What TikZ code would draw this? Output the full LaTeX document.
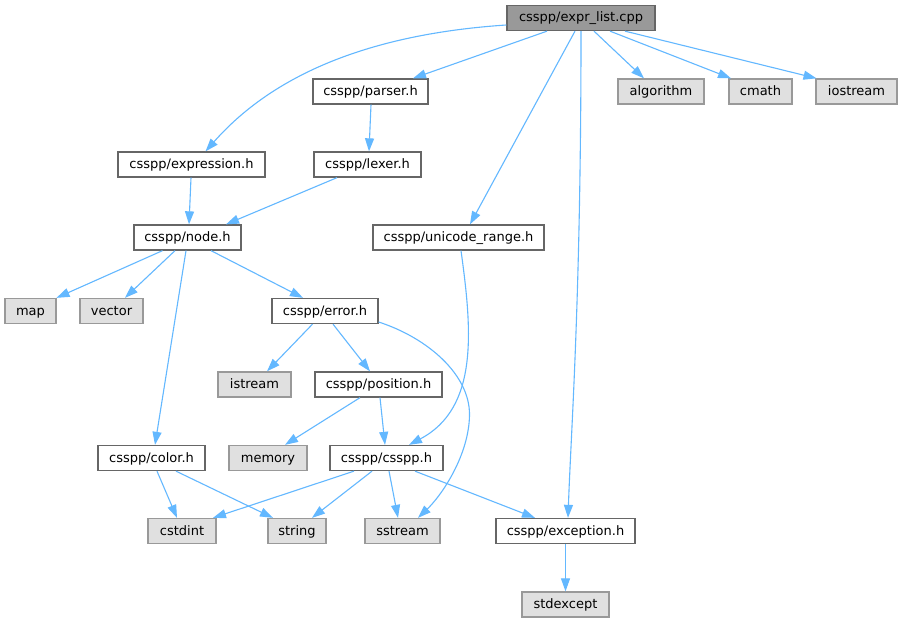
\documentclass[tikz,border=0pt]{standalone}
\usepackage{fontspec}
\setmainfont{DejaVu Sans}
\usetikzlibrary{arrows.meta}
\definecolor{edgeblue}{HTML}{63B8FF}
\definecolor{nodeborder}{HTML}{666666}
\definecolor{sysborder}{HTML}{999999}
\definecolor{sysfill}{HTML}{E0E0E0}
\definecolor{topfill}{HTML}{999999}
\tikzset{
  filebox/.style={draw=nodeborder, fill=white, line width=1.3pt, minimum height=25pt,
    inner sep=0pt, text height=10pt, text depth=2pt,
    font=\fontsize{13}{15}\selectfont, anchor=center},
  sysbox/.style={filebox, draw=sysborder, fill=sysfill},
  topbox/.style={filebox, draw=nodeborder, fill=topfill},
  dep/.style={draw=edgeblue, line width=1.1pt, -{Triangle[length=13pt,width=9pt]}},
}
\begin{document}
\begin{tikzpicture}[x=1pt,y=-1pt]
\fill[white] (0,0) rectangle (901,623);
\useasboundingbox (0,0) rectangle (901,623);

% row 0
\node[topbox, minimum width=148pt] (top) at (581,18) {csspp/expr\_list.cpp};
% row 1
\node[filebox, minimum width=115pt] (parser) at (370.5,91.5) {csspp/parser.h};
\node[sysbox, minimum width=86pt] (algorithm) at (661,91.5) {algorithm};
\node[sysbox, minimum width=63pt] (cmath) at (760.5,91.5) {cmath};
\node[sysbox, minimum width=81pt] (iostream) at (856.5,91.5) {iostream};
% row 2
\node[filebox, minimum width=147pt] (expression) at (191.5,164.5) {csspp/expression.h};
\node[filebox, minimum width=107pt] (lexer) at (367.5,164.5) {csspp/lexer.h};
% row 3
\node[filebox, minimum width=107pt] (nodeh) at (187.5,237.5) {csspp/node.h};
\node[filebox, minimum width=171pt] (unicode) at (458.5,237.5) {csspp/unicode\_range.h};
% row 4
\node[sysbox, minimum width=51pt] (map) at (30.5,311) {map};
\node[sysbox, minimum width=63pt] (vector) at (111.5,311) {vector};
\node[filebox, minimum width=106pt] (error) at (325,311) {csspp/error.h};
% row 5
\node[sysbox, minimum width=73pt] (istream) at (254.5,384.5) {istream};
\node[filebox, minimum width=127pt] (position) at (378.5,384.5) {csspp/position.h};
% row 6
\node[filebox, minimum width=107pt] (color) at (151.5,458) {csspp/color.h};
\node[sysbox, minimum width=78pt] (memory) at (268,458) {memory};
\node[filebox, minimum width=113pt] (csspp) at (386.5,458) {csspp/csspp.h};
% row 7
\node[sysbox, minimum width=68pt] (cstdint) at (182,531) {cstdint};
\node[sysbox, minimum width=58pt] (string) at (297,531) {string};
\node[sysbox, minimum width=75pt] (sstream) at (402.5,531) {sstream};
\node[filebox, minimum width=139pt] (exception) at (565.5,531) {csspp/exception.h};
% row 8
\node[sysbox, minimum width=87pt] (stdexcept) at (565.5,604.5) {stdexcept};

% edges from top
\draw[dep] ([yshift=-7pt]top.west) .. controls (340,36) and (258,92) .. ([xshift=14pt]expression.north);
\draw[dep] ([xshift=-34pt]top.south) -- ([xshift=42.5pt]parser.north);
\draw[dep] ([xshift=-6pt]top.south) -- ([xshift=11.5pt]unicode.north);
\draw[dep] (top.south) .. controls (581,300) and (571,430) .. ([xshift=2.5pt]exception.north);
\draw[dep] ([xshift=13pt]top.south) -- ([xshift=-17pt]algorithm.north);
\draw[dep] ([xshift=29pt]top.south) -- ([xshift=-29.5pt]cmath.north);
\draw[dep] ([xshift=44pt]top.south) -- ([xshift=-40pt]iostream.north);

% parser, expression, lexer
\draw[dep] ([xshift=0.5pt]parser.south) -- ([xshift=1.5pt]lexer.north);
\draw[dep] ([xshift=-0.5pt]expression.south) -- ([xshift=1.5pt]nodeh.north);
\draw[dep] ([xshift=-30.5pt]lexer.south) -- ([xshift=38.5pt]nodeh.north);

% node.h
\draw[dep] ([xshift=-25pt]nodeh.south) -- ([xshift=26pt]map.north);
\draw[dep] ([xshift=-12.5pt]nodeh.south) -- ([xshift=13.5pt]vector.north);
\draw[dep] ([xshift=-1.5pt]nodeh.south) -- ([xshift=3.5pt]color.north);
\draw[dep] ([xshift=23.5pt]nodeh.south) -- ([xshift=-22pt]error.north);

% unicode_range
\draw[dep] ([xshift=2.5pt]unicode.south) .. controls (472,330) and (479,408) .. ([xshift=22.5pt]csspp.north);

% error.h
\draw[dep] ([xshift=-12.5pt]error.south) -- ([xshift=12.5pt]istream.north);
\draw[dep] ([xshift=8pt]error.south) -- ([xshift=-8.5pt]position.north);
\draw[dep] ([yshift=-11pt]error.east) .. controls (428,338) and (470,375) .. (469.5,415)
  .. controls (469,455) and (442,495) .. ([xshift=15.5pt]sstream.north);

% position.h
\draw[dep] ([xshift=-18.5pt]position.south) -- ([xshift=17pt]memory.north);
\draw[dep] ([xshift=1.5pt]position.south) -- ([xshift=-1.5pt]csspp.north);

% color.h
\draw[dep] ([xshift=5.5pt]color.south) -- ([xshift=-5pt]cstdint.north);
\draw[dep] ([xshift=24.5pt]color.south) -- ([xshift=-24pt]string.north);

% csspp.h
\draw[dep] ([xshift=-32.5pt]csspp.south) -- ([xshift=31pt]cstdint.north);
\draw[dep] ([xshift=-14.5pt]csspp.south) -- ([xshift=15pt]string.north);
\draw[dep] ([xshift=2.5pt]csspp.south) -- ([xshift=-4.5pt]sstream.north);
\draw[dep] ([xshift=28.5pt]csspp.south) -- ([xshift=-30.5pt]exception.north);

% exception.h
\draw[dep] (exception.south) -- (stdexcept.north);
\end{tikzpicture}
\end{document}
